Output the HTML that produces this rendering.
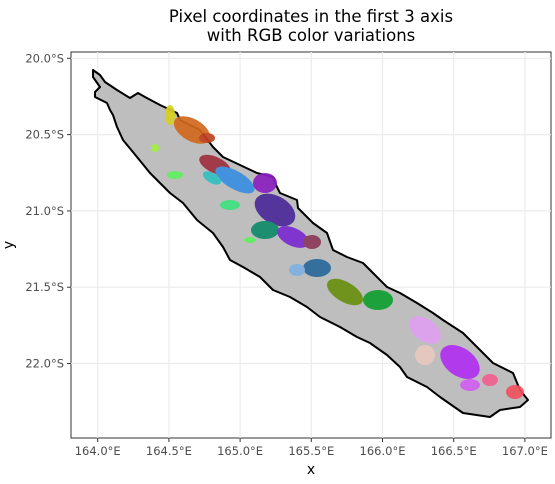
<!DOCTYPE html>
<html><head><meta charset="utf-8"><style>
body{margin:0;background:#fff}
text{font-family:"DejaVu Sans","Liberation Sans",sans-serif}
</style></head><body>
<svg width="555" height="479" viewBox="0 0 555 479" xmlns="http://www.w3.org/2000/svg">
<g font-size="16.5" fill="#000" text-anchor="middle">
<text x="311" y="22">Pixel coordinates in the first 3 axis</text>
<text x="311" y="41">with RGB color variations</text>
</g>
<rect x="71" y="52" width="480" height="386" fill="#fff" stroke="#333" stroke-width="1"/>
<g id="grid" stroke="#ebebeb" stroke-width="1.2"></g>
<polygon fill="#bebebe" stroke="#000" stroke-width="2" stroke-linejoin="round"
points="93,70 100,75 105,82 117,90 130,98 138,93 145,97 160,105 177,113 180,120 200,130 213,147 223,157 240,165 257,173 273,177 275,183 280,193 297,200 298,208 313,223 327,233 333,250 347,257 363,263 373,273 387,287 400,293 417,303 433,313 443,320 463,333 483,353 493,363 513,373 520,390 528,400 520,407 500,410 490,417 463,413 440,397 427,387 407,377 400,367 387,355 370,343 357,337 340,327 320,317 307,307 290,297 273,290 260,277 243,267 230,260 223,247 213,233 197,220 183,203 170,193 150,173 137,157 123,140 117,127 113,115 110,110 107,103 95,97 95,92 100,87 93,77"/>
<g opacity="0.92">
<ellipse cx="170" cy="115" rx="5" ry="10" fill="#d4d020"/>
<ellipse cx="192" cy="130" rx="20" ry="11" fill="#d2691e" transform="rotate(30 192 130)"/>
<ellipse cx="207" cy="138" rx="8" ry="5" fill="#c04020"/>
<ellipse cx="215" cy="165" rx="17" ry="8" fill="#a03040" transform="rotate(25 215 165)"/>
<ellipse cx="235" cy="180" rx="22" ry="9" fill="#3a8ee0" transform="rotate(30 235 180)"/>
<ellipse cx="212" cy="178" rx="10" ry="5" fill="#30c0c0" transform="rotate(30 212 178)"/>
<ellipse cx="265" cy="183" rx="12" ry="10" fill="#8a20c0"/>
<ellipse cx="275" cy="210" rx="22" ry="14" fill="#4b2a9a" transform="rotate(30 275 210)"/>
<ellipse cx="265" cy="230" rx="14" ry="9" fill="#108a6a"/>
<ellipse cx="293" cy="237" rx="17" ry="9" fill="#7a2ad0" transform="rotate(25 293 237)"/>
<ellipse cx="312" cy="242" rx="9" ry="7" fill="#8b3a5a"/>
<ellipse cx="317" cy="268" rx="14" ry="9" fill="#2a6a9a"/>
<ellipse cx="297" cy="270" rx="8" ry="6" fill="#80b0e0"/>
<ellipse cx="345" cy="292" rx="20" ry="10" fill="#6a9010" transform="rotate(30 345 292)"/>
<ellipse cx="378" cy="300" rx="15" ry="10" fill="#10a030"/>
<ellipse cx="175" cy="175" rx="8" ry="4" fill="#60f060"/>
<ellipse cx="230" cy="205" rx="10" ry="5" fill="#40e080"/>
<ellipse cx="155" cy="148" rx="4" ry="4" fill="#a0f040"/>
<ellipse cx="250" cy="240" rx="6" ry="3" fill="#60f060"/>
<ellipse cx="425" cy="330" rx="18" ry="11" fill="#e0a0f0" transform="rotate(35 425 330)"/>
<ellipse cx="425" cy="355" rx="10" ry="10" fill="#e8c8c0"/>
<ellipse cx="460" cy="362" rx="22" ry="14" fill="#b030f0" transform="rotate(35 460 362)"/>
<ellipse cx="470" cy="385" rx="10" ry="6" fill="#d060f0"/>
<ellipse cx="490" cy="380" rx="8" ry="6" fill="#f06090"/>
<ellipse cx="515" cy="392" rx="9" ry="7" fill="#f05060"/>
</g>
<g id="axes" font-size="11.5" fill="#4d4d4d"></g>
<text x="311" y="474" font-size="14" text-anchor="middle">x</text>
<text x="13" y="245" font-size="14" text-anchor="middle" transform="rotate(-90 13 245)">y</text>
</svg>
<script>
const xTicks=[164.0,164.5,165.0,165.5,166.0,166.5,167.0];
const yTicks=[20.0,20.5,21.0,21.5,22.0];
const xs=v=>97.7+(v-164)*142.4;
const ys=v=>58.3+(v-20)*152.6;
const NS="http://www.w3.org/2000/svg";
const grid=document.getElementById('grid'),axes=document.getElementById('axes');
function mk(p,t,a){const e=document.createElementNS(NS,t);for(const k in a)e.setAttribute(k,a[k]);p.appendChild(e);return e;}
xTicks.forEach(v=>{const x=xs(v);
const g=mk(grid,'line',{x1:x,x2:x,y1:52,y2:438});


const tk=mk(axes,'line',{x1:x,x2:x,y1:438,y2:442,stroke:'#333'});


const t=mk(axes,'text',{x:x,y:455,'text-anchor':'middle'});t.textContent=v.toFixed(1)+'°E';

});
yTicks.forEach(v=>{const y=ys(v);
const g=mk(grid,'line',{x1:71,x2:551,y1:y,y2:y});


const tk=mk(axes,'line',{x1:67,x2:71,y1:y,y2:y,stroke:'#333'});


const t=mk(axes,'text',{x:64,y:y+4,'text-anchor':'end'});t.textContent=v.toFixed(1)+'°S';

});
</script>
</body></html>
